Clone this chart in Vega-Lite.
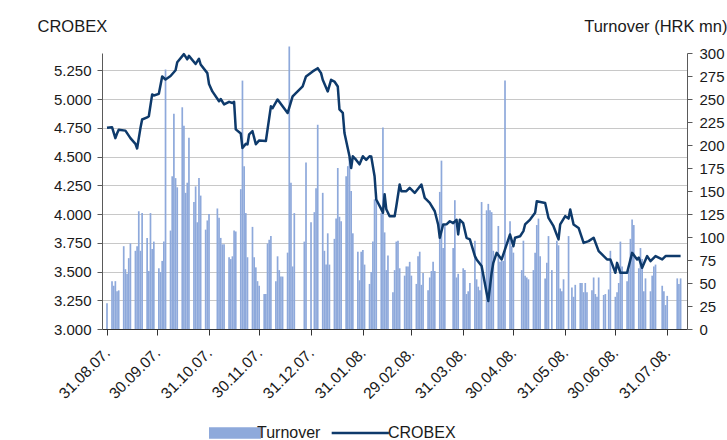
{
  "$schema": "https://vega.github.io/schema/vega-lite/v6.json",
  "width": 585,
  "height": 276,
  "autosize": {"type": "none"},
  "padding": {"left": 102, "top": 53, "right": 40, "bottom": 111},
  "background": "white",
  "config": {
    "font": "Liberation Sans",
    "view": {"stroke": null},
    "axis": {
      "labelFont": "Liberation Sans",
      "labelFontSize": 15,
      "labelColor": "#1a1a1a",
      "titleFont": "Liberation Sans",
      "titleFontSize": 16.5,
      "titleFontWeight": "normal",
      "titleColor": "#1a1a1a",
      "domainColor": "#5a5a5a",
      "tickColor": "#5a5a5a"
    },
    "legend": {"labelFont": "Liberation Sans", "labelFontSize": 16, "labelColor": "#1a1a1a"}
  },
  "datasets": {
    "turnover": [
      {"date": "2007-08-31", "turnover": 28},
      {"date": "2007-09-03", "turnover": 52}, {"date": "2007-09-04", "turnover": 47}, {"date": "2007-09-05", "turnover": 52}, {"date": "2007-09-06", "turnover": 41}, {"date": "2007-09-07", "turnover": 42},
      {"date": "2007-09-10", "turnover": 90}, {"date": "2007-09-11", "turnover": 65}, {"date": "2007-09-12", "turnover": 60}, {"date": "2007-09-13", "turnover": 77}, {"date": "2007-09-14", "turnover": 93},
      {"date": "2007-09-17", "turnover": 85}, {"date": "2007-09-18", "turnover": 90}, {"date": "2007-09-19", "turnover": 128}, {"date": "2007-09-20", "turnover": 85}, {"date": "2007-09-21", "turnover": 126},
      {"date": "2007-09-24", "turnover": 99}, {"date": "2007-09-25", "turnover": 63}, {"date": "2007-09-26", "turnover": 126}, {"date": "2007-09-27", "turnover": 87}, {"date": "2007-09-28", "turnover": 95},
      {"date": "2007-10-01", "turnover": 66}, {"date": "2007-10-02", "turnover": 62}, {"date": "2007-10-03", "turnover": 74}, {"date": "2007-10-04", "turnover": 95}, {"date": "2007-10-05", "turnover": 282},
      {"date": "2007-10-08", "turnover": 107}, {"date": "2007-10-09", "turnover": 166}, {"date": "2007-10-10", "turnover": 234}, {"date": "2007-10-11", "turnover": 164}, {"date": "2007-10-12", "turnover": 154},
      {"date": "2007-10-15", "turnover": 241}, {"date": "2007-10-16", "turnover": 221}, {"date": "2007-10-17", "turnover": 148}, {"date": "2007-10-18", "turnover": 159}, {"date": "2007-10-19", "turnover": 208},
      {"date": "2007-10-22", "turnover": 138}, {"date": "2007-10-23", "turnover": 155}, {"date": "2007-10-24", "turnover": 116}, {"date": "2007-10-25", "turnover": 164}, {"date": "2007-10-26", "turnover": 145},
      {"date": "2007-10-29", "turnover": 108}, {"date": "2007-10-30", "turnover": 118}, {"date": "2007-10-31", "turnover": 125},
      {"date": "2007-11-05", "turnover": 131}, {"date": "2007-11-06", "turnover": 121}, {"date": "2007-11-07", "turnover": 99}, {"date": "2007-11-08", "turnover": 92}, {"date": "2007-11-09", "turnover": 92},
      {"date": "2007-11-12", "turnover": 78}, {"date": "2007-11-13", "turnover": 76}, {"date": "2007-11-14", "turnover": 79}, {"date": "2007-11-15", "turnover": 107}, {"date": "2007-11-16", "turnover": 106},
      {"date": "2007-11-19", "turnover": 152}, {"date": "2007-11-20", "turnover": 270}, {"date": "2007-11-21", "turnover": 177}, {"date": "2007-11-22", "turnover": 126}, {"date": "2007-11-23", "turnover": 78},
      {"date": "2007-11-26", "turnover": 111}, {"date": "2007-11-27", "turnover": 78}, {"date": "2007-11-28", "turnover": 67}, {"date": "2007-11-29", "turnover": 52}, {"date": "2007-11-30", "turnover": 47},
      {"date": "2007-12-03", "turnover": 38}, {"date": "2007-12-04", "turnover": 38}, {"date": "2007-12-05", "turnover": 93}, {"date": "2007-12-06", "turnover": 97}, {"date": "2007-12-07", "turnover": 101},
      {"date": "2007-12-10", "turnover": 52}, {"date": "2007-12-11", "turnover": 79}, {"date": "2007-12-12", "turnover": 64}, {"date": "2007-12-13", "turnover": 57}, {"date": "2007-12-14", "turnover": 57},
      {"date": "2007-12-17", "turnover": 83}, {"date": "2007-12-18", "turnover": 307}, {"date": "2007-12-19", "turnover": 159}, {"date": "2007-12-20", "turnover": 68}, {"date": "2007-12-21", "turnover": 126},
      {"date": "2007-12-27", "turnover": 95}, {"date": "2007-12-28", "turnover": 181}, {"date": "2007-12-31", "turnover": 116},
      {"date": "2008-01-02", "turnover": 127}, {"date": "2008-01-03", "turnover": 153}, {"date": "2008-01-04", "turnover": 222},
      {"date": "2008-01-07", "turnover": 148}, {"date": "2008-01-08", "turnover": 85}, {"date": "2008-01-09", "turnover": 70}, {"date": "2008-01-10", "turnover": 104}, {"date": "2008-01-11", "turnover": 70},
      {"date": "2008-01-14", "turnover": 98}, {"date": "2008-01-15", "turnover": 120}, {"date": "2008-01-16", "turnover": 175}, {"date": "2008-01-17", "turnover": 122}, {"date": "2008-01-18", "turnover": 117},
      {"date": "2008-01-21", "turnover": 166}, {"date": "2008-01-22", "turnover": 177}, {"date": "2008-01-23", "turnover": 186}, {"date": "2008-01-24", "turnover": 150}, {"date": "2008-01-25", "turnover": 104},
      {"date": "2008-01-28", "turnover": 84}, {"date": "2008-01-29", "turnover": 53}, {"date": "2008-01-30", "turnover": 84}, {"date": "2008-01-31", "turnover": 86}, {"date": "2008-02-01", "turnover": 70},
      {"date": "2008-02-04", "turnover": 49}, {"date": "2008-02-05", "turnover": 62}, {"date": "2008-02-06", "turnover": 95}, {"date": "2008-02-07", "turnover": 141}, {"date": "2008-02-08", "turnover": 148},
      {"date": "2008-02-11", "turnover": 126}, {"date": "2008-02-12", "turnover": 219}, {"date": "2008-02-13", "turnover": 105}, {"date": "2008-02-14", "turnover": 64}, {"date": "2008-02-15", "turnover": 80},
      {"date": "2008-02-18", "turnover": 40}, {"date": "2008-02-19", "turnover": 64}, {"date": "2008-02-20", "turnover": 95}, {"date": "2008-02-21", "turnover": 96}, {"date": "2008-02-22", "turnover": 66},
      {"date": "2008-02-25", "turnover": 58}, {"date": "2008-02-26", "turnover": 68}, {"date": "2008-02-27", "turnover": 68}, {"date": "2008-02-28", "turnover": 73}, {"date": "2008-02-29", "turnover": 58},
      {"date": "2008-03-03", "turnover": 49}, {"date": "2008-03-04", "turnover": 79}, {"date": "2008-03-05", "turnover": 84}, {"date": "2008-03-06", "turnover": 48}, {"date": "2008-03-07", "turnover": 61},
      {"date": "2008-03-10", "turnover": 42}, {"date": "2008-03-11", "turnover": 56}, {"date": "2008-03-12", "turnover": 63}, {"date": "2008-03-13", "turnover": 73}, {"date": "2008-03-14", "turnover": 63},
      {"date": "2008-03-17", "turnover": 149}, {"date": "2008-03-18", "turnover": 183}, {"date": "2008-03-19", "turnover": 88}, {"date": "2008-03-20", "turnover": 113},
      {"date": "2008-03-25", "turnover": 88}, {"date": "2008-03-26", "turnover": 140}, {"date": "2008-03-27", "turnover": 56}, {"date": "2008-03-28", "turnover": 60},
      {"date": "2008-03-31", "turnover": 66}, {"date": "2008-04-01", "turnover": 64}, {"date": "2008-04-02", "turnover": 38}, {"date": "2008-04-03", "turnover": 41}, {"date": "2008-04-04", "turnover": 50},
      {"date": "2008-04-07", "turnover": 96}, {"date": "2008-04-08", "turnover": 54}, {"date": "2008-04-09", "turnover": 46}, {"date": "2008-04-10", "turnover": 42}, {"date": "2008-04-11", "turnover": 138},
      {"date": "2008-04-14", "turnover": 129}, {"date": "2008-04-15", "turnover": 136}, {"date": "2008-04-16", "turnover": 129}, {"date": "2008-04-17", "turnover": 127}, {"date": "2008-04-18", "turnover": 85},
      {"date": "2008-04-21", "turnover": 112}, {"date": "2008-04-22", "turnover": 73}, {"date": "2008-04-23", "turnover": 74}, {"date": "2008-04-24", "turnover": 74}, {"date": "2008-04-25", "turnover": 270},
      {"date": "2008-04-28", "turnover": 117}, {"date": "2008-04-29", "turnover": 90}, {"date": "2008-04-30", "turnover": 83},
      {"date": "2008-05-05", "turnover": 64}, {"date": "2008-05-06", "turnover": 96}, {"date": "2008-05-07", "turnover": 58}, {"date": "2008-05-08", "turnover": 56}, {"date": "2008-05-09", "turnover": 54},
      {"date": "2008-05-12", "turnover": 64}, {"date": "2008-05-13", "turnover": 83}, {"date": "2008-05-14", "turnover": 113}, {"date": "2008-05-15", "turnover": 120}, {"date": "2008-05-16", "turnover": 79},
      {"date": "2008-05-19", "turnover": 55}, {"date": "2008-05-20", "turnover": 72}, {"date": "2008-05-21", "turnover": 101}, {"date": "2008-05-23", "turnover": 64},
      {"date": "2008-05-26", "turnover": 96}, {"date": "2008-05-27", "turnover": 91}, {"date": "2008-05-28", "turnover": 44}, {"date": "2008-05-29", "turnover": 41}, {"date": "2008-05-30", "turnover": 54},
      {"date": "2008-06-02", "turnover": 101}, {"date": "2008-06-04", "turnover": 45}, {"date": "2008-06-05", "turnover": 35}, {"date": "2008-06-06", "turnover": 48},
      {"date": "2008-06-09", "turnover": 50}, {"date": "2008-06-10", "turnover": 50}, {"date": "2008-06-11", "turnover": 40}, {"date": "2008-06-12", "turnover": 50}, {"date": "2008-06-13", "turnover": 40},
      {"date": "2008-06-16", "turnover": 42}, {"date": "2008-06-17", "turnover": 56}, {"date": "2008-06-18", "turnover": 38}, {"date": "2008-06-19", "turnover": 35}, {"date": "2008-06-20", "turnover": 56},
      {"date": "2008-06-23", "turnover": 37}, {"date": "2008-06-24", "turnover": 38}, {"date": "2008-06-26", "turnover": 43}, {"date": "2008-06-27", "turnover": 85},
      {"date": "2008-06-30", "turnover": 35}, {"date": "2008-07-01", "turnover": 40}, {"date": "2008-07-02", "turnover": 50}, {"date": "2008-07-03", "turnover": 95}, {"date": "2008-07-04", "turnover": 68},
      {"date": "2008-07-07", "turnover": 52}, {"date": "2008-07-08", "turnover": 64}, {"date": "2008-07-09", "turnover": 98}, {"date": "2008-07-10", "turnover": 119}, {"date": "2008-07-11", "turnover": 113},
      {"date": "2008-07-14", "turnover": 66}, {"date": "2008-07-15", "turnover": 88}, {"date": "2008-07-16", "turnover": 76}, {"date": "2008-07-17", "turnover": 41}, {"date": "2008-07-18", "turnover": 55},
      {"date": "2008-07-21", "turnover": 41}, {"date": "2008-07-22", "turnover": 58}, {"date": "2008-07-23", "turnover": 68}, {"date": "2008-07-24", "turnover": 70},
      {"date": "2008-07-28", "turnover": 47}, {"date": "2008-07-29", "turnover": 41}, {"date": "2008-07-30", "turnover": 26}, {"date": "2008-07-31", "turnover": 36},
      {"date": "2008-08-06", "turnover": 55}, {"date": "2008-08-07", "turnover": 49}, {"date": "2008-08-08", "turnover": 55}
    ],
    "crobex": [
      {"date": "2007-08-31", "crobex": 4750}, {"date": "2007-09-03", "crobex": 4755}, {"date": "2007-09-05", "crobex": 4660}, {"date": "2007-09-06", "crobex": 4700}, {"date": "2007-09-07", "crobex": 4733},
      {"date": "2007-09-11", "crobex": 4725}, {"date": "2007-09-14", "crobex": 4660}, {"date": "2007-09-17", "crobex": 4610}, {"date": "2007-09-18", "crobex": 4570}, {"date": "2007-09-20", "crobex": 4747},
      {"date": "2007-09-21", "crobex": 4822}, {"date": "2007-09-24", "crobex": 4840}, {"date": "2007-09-25", "crobex": 4850}, {"date": "2007-09-27", "crobex": 5040}, {"date": "2007-09-28", "crobex": 5030},
      {"date": "2007-10-01", "crobex": 5045}, {"date": "2007-10-03", "crobex": 5196}, {"date": "2007-10-05", "crobex": 5170}, {"date": "2007-10-08", "crobex": 5200}, {"date": "2007-10-11", "crobex": 5250},
      {"date": "2007-10-12", "crobex": 5320}, {"date": "2007-10-16", "crobex": 5390}, {"date": "2007-10-18", "crobex": 5345}, {"date": "2007-10-19", "crobex": 5375}, {"date": "2007-10-23", "crobex": 5305},
      {"date": "2007-10-25", "crobex": 5350}, {"date": "2007-10-26", "crobex": 5300}, {"date": "2007-10-30", "crobex": 5225}, {"date": "2007-10-31", "crobex": 5130}, {"date": "2007-11-02", "crobex": 5066},
      {"date": "2007-11-06", "crobex": 4980}, {"date": "2007-11-07", "crobex": 5000}, {"date": "2007-11-09", "crobex": 4953}, {"date": "2007-11-12", "crobex": 4975}, {"date": "2007-11-14", "crobex": 4965},
      {"date": "2007-11-15", "crobex": 4975}, {"date": "2007-11-16", "crobex": 4736}, {"date": "2007-11-19", "crobex": 4700}, {"date": "2007-11-20", "crobex": 4574}, {"date": "2007-11-22", "crobex": 4610},
      {"date": "2007-11-23", "crobex": 4605}, {"date": "2007-11-24", "crobex": 4693}, {"date": "2007-11-26", "crobex": 4720}, {"date": "2007-11-28", "crobex": 4606}, {"date": "2007-11-30", "crobex": 4640},
      {"date": "2007-12-04", "crobex": 4635}, {"date": "2007-12-07", "crobex": 4936}, {"date": "2007-12-08", "crobex": 4920}, {"date": "2007-12-11", "crobex": 4996}, {"date": "2007-12-14", "crobex": 4936},
      {"date": "2007-12-17", "crobex": 4878}, {"date": "2007-12-20", "crobex": 5022}, {"date": "2007-12-23", "crobex": 5066}, {"date": "2007-12-26", "crobex": 5109}, {"date": "2007-12-28", "crobex": 5196},
      {"date": "2008-01-01", "crobex": 5240}, {"date": "2008-01-04", "crobex": 5268}, {"date": "2008-01-06", "crobex": 5225}, {"date": "2008-01-07", "crobex": 5167}, {"date": "2008-01-10", "crobex": 5066},
      {"date": "2008-01-12", "crobex": 5167}, {"date": "2008-01-14", "crobex": 5152}, {"date": "2008-01-16", "crobex": 5109}, {"date": "2008-01-17", "crobex": 4910}, {"date": "2008-01-19", "crobex": 4880},
      {"date": "2008-01-20", "crobex": 4704}, {"date": "2008-01-23", "crobex": 4502}, {"date": "2008-01-24", "crobex": 4400}, {"date": "2008-01-25", "crobex": 4502}, {"date": "2008-01-27", "crobex": 4470},
      {"date": "2008-01-29", "crobex": 4432}, {"date": "2008-01-31", "crobex": 4502}, {"date": "2008-02-02", "crobex": 4470}, {"date": "2008-02-04", "crobex": 4502}, {"date": "2008-02-05", "crobex": 4500},
      {"date": "2008-02-07", "crobex": 4328}, {"date": "2008-02-08", "crobex": 4126}, {"date": "2008-02-11", "crobex": 4042}, {"date": "2008-02-12", "crobex": 4010}, {"date": "2008-02-13", "crobex": 4172},
      {"date": "2008-02-14", "crobex": 4042}, {"date": "2008-02-16", "crobex": 3981}, {"date": "2008-02-19", "crobex": 3981}, {"date": "2008-02-20", "crobex": 4068}, {"date": "2008-02-22", "crobex": 4256},
      {"date": "2008-02-23", "crobex": 4198}, {"date": "2008-02-26", "crobex": 4198}, {"date": "2008-02-28", "crobex": 4227}, {"date": "2008-03-02", "crobex": 4183}, {"date": "2008-03-06", "crobex": 4256},
      {"date": "2008-03-08", "crobex": 4140}, {"date": "2008-03-11", "crobex": 4096}, {"date": "2008-03-14", "crobex": 4024}, {"date": "2008-03-16", "crobex": 3909}, {"date": "2008-03-17", "crobex": 3793},
      {"date": "2008-03-19", "crobex": 3909}, {"date": "2008-03-21", "crobex": 3910}, {"date": "2008-03-23", "crobex": 3937}, {"date": "2008-03-25", "crobex": 3920}, {"date": "2008-03-27", "crobex": 3950},
      {"date": "2008-03-28", "crobex": 3822}, {"date": "2008-03-29", "crobex": 3950}, {"date": "2008-03-31", "crobex": 3920}, {"date": "2008-04-02", "crobex": 3793}, {"date": "2008-04-04", "crobex": 3779},
      {"date": "2008-04-07", "crobex": 3634}, {"date": "2008-04-08", "crobex": 3605}, {"date": "2008-04-11", "crobex": 3547}, {"date": "2008-04-14", "crobex": 3315}, {"date": "2008-04-15", "crobex": 3243},
      {"date": "2008-04-17", "crobex": 3489}, {"date": "2008-04-18", "crobex": 3575}, {"date": "2008-04-20", "crobex": 3662}, {"date": "2008-04-23", "crobex": 3605}, {"date": "2008-04-25", "crobex": 3692},
      {"date": "2008-04-28", "crobex": 3822}, {"date": "2008-04-30", "crobex": 3720}, {"date": "2008-05-01", "crobex": 3793}, {"date": "2008-05-04", "crobex": 3807}, {"date": "2008-05-06", "crobex": 3851},
      {"date": "2008-05-07", "crobex": 3909}, {"date": "2008-05-10", "crobex": 3952}, {"date": "2008-05-13", "crobex": 4010}, {"date": "2008-05-14", "crobex": 4111}, {"date": "2008-05-19", "crobex": 4096},
      {"date": "2008-05-21", "crobex": 3966}, {"date": "2008-05-24", "crobex": 3894}, {"date": "2008-05-27", "crobex": 3779}, {"date": "2008-05-28", "crobex": 3909}, {"date": "2008-05-31", "crobex": 3981},
      {"date": "2008-06-02", "crobex": 3960}, {"date": "2008-06-03", "crobex": 4039}, {"date": "2008-06-05", "crobex": 3909}, {"date": "2008-06-08", "crobex": 3879}, {"date": "2008-06-11", "crobex": 3749},
      {"date": "2008-06-14", "crobex": 3764}, {"date": "2008-06-17", "crobex": 3793}, {"date": "2008-06-20", "crobex": 3677}, {"date": "2008-06-22", "crobex": 3648}, {"date": "2008-06-25", "crobex": 3605},
      {"date": "2008-06-27", "crobex": 3605}, {"date": "2008-06-30", "crobex": 3489}, {"date": "2008-07-01", "crobex": 3575}, {"date": "2008-07-03", "crobex": 3489}, {"date": "2008-07-07", "crobex": 3489},
      {"date": "2008-07-10", "crobex": 3662}, {"date": "2008-07-13", "crobex": 3605}, {"date": "2008-07-14", "crobex": 3620}, {"date": "2008-07-16", "crobex": 3532}, {"date": "2008-07-19", "crobex": 3634},
      {"date": "2008-07-21", "crobex": 3590}, {"date": "2008-07-24", "crobex": 3634}, {"date": "2008-07-28", "crobex": 3605}, {"date": "2008-07-30", "crobex": 3634}, {"date": "2008-08-08", "crobex": 3634}
    ]
  },
  "encoding": {
    "x": {
      "field": "date",
      "type": "temporal",
      "scale": {"domain": [{"year": 2007, "month": 8, "date": 31}, {"year": 2008, "month": 8, "date": 8, "hours": 20}]},
      "axis": {
        "title": null,
        "grid": false,
        "format": "%d.%m.%y.",
        "values": [
          {"year": 2007, "month": 8, "date": 31}, {"year": 2007, "month": 9, "date": 30}, {"year": 2007, "month": 10, "date": 31},
          {"year": 2007, "month": 11, "date": 30}, {"year": 2007, "month": 12, "date": 31}, {"year": 2008, "month": 1, "date": 31},
          {"year": 2008, "month": 2, "date": 29}, {"year": 2008, "month": 3, "date": 31}, {"year": 2008, "month": 4, "date": 30},
          {"year": 2008, "month": 5, "date": 31}, {"year": 2008, "month": 6, "date": 30}, {"year": 2008, "month": 7, "date": 31}
        ],
        "labelAngle": -45,
        "labelAlign": "right",
        "labelBaseline": "middle",
        "labelFontSize": 15.5,
        "labelPadding": 15,
        "labelOverlap": false,
        "labelBound": false,
        "labelFlush": false,
        "tickSize": 6,
        "domainColor": "#333333",
        "tickColor": "#333333"
      }
    }
  },
  "layer": [
    {
      "data": {"name": "turnover", "format": {"parse": {"date": "date:'%Y-%m-%d'"}}},
      "mark": {"type": "bar", "size": 1.7, "clip": false},
      "encoding": {
        "y": {
          "field": "turnover",
          "type": "quantitative",
          "scale": {"domain": [0, 300], "nice": false},
          "axis": {
            "orient": "right",
            "values": [0, 25, 50, 75, 100, 125, 150, 175, 200, 225, 250, 275, 300],
            "grid": false,
            "tickSize": 5,
            "labelPadding": 7,
            "title": "Turnover (HRK mn)",
            "titleAngle": 0,
            "titleAlign": "right",
            "titleBaseline": "alphabetic",
            "titleX": 40,
            "titleY": -22
          }
        },
        "color": {
          "datum": "Turnover",
          "scale": {"domain": ["Turnover", "CROBEX"], "range": ["#8EA9DB", "#0E3A6B"]},
          "legend": {
            "title": null,
            "orient": "none",
            "direction": "horizontal",
            "legendX": 125,
            "legendY": 372,
            "symbolSize": 2704,
            "labelOffset": 14,
            "columnPadding": 5,
            "symbolType": "square",
            "encode": {
              "symbols": {
                "update": {
                  "shape": {"signal": "datum.value === 'CROBEX' ? 'M-1.32,0H0.88' : 'M-1,-0.22H1V0.22H-1Z'"},
                  "fill": {"signal": "datum.value === 'CROBEX' ? 'transparent' : '#8EA9DB'"},
                  "stroke": {"signal": "datum.value === 'CROBEX' ? '#0E3A6B' : 'transparent'"},
                  "strokeWidth": {"signal": "datum.value === 'CROBEX' ? 2.5 : 0"},
                  "opacity": {"value": 1}
                }
              }
            }
          }
        }
      }
    },
    {
      "data": {"name": "crobex", "format": {"parse": {"date": "date:'%Y-%m-%d'"}}},
      "mark": {"type": "line", "strokeWidth": 2.5, "strokeJoin": "round"},
      "encoding": {
        "y": {
          "field": "crobex",
          "type": "quantitative",
          "scale": {"domain": [3000, 5400], "nice": false, "zero": false},
          "axis": {
            "orient": "left",
            "values": [3000, 3250, 3500, 3750, 4000, 4250, 4500, 4750, 5000, 5250],
            "labelExpr": "replace(format(datum.value, ',.0f'), ',', '.')",
            "grid": true,
            "gridColor": "#C8C8C8",
            "gridWidth": 1.2,
            "tickSize": 5,
            "labelPadding": 6,
            "title": "CROBEX",
            "titleAngle": 0,
            "titleAlign": "left",
            "titleBaseline": "alphabetic",
            "titleX": -65,
            "titleY": -22
          }
        },
        "color": {"datum": "CROBEX"}
      }
    }
  ],
  "resolve": {"scale": {"y": "independent"}}
}
